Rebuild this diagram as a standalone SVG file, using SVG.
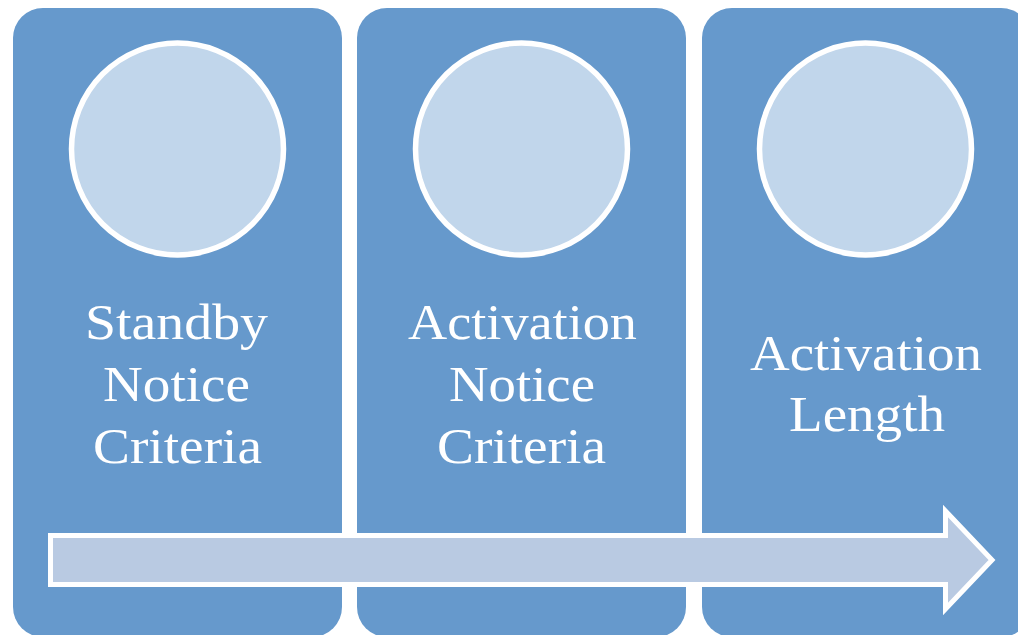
<svg xmlns="http://www.w3.org/2000/svg" width="1018" height="635" viewBox="0 0 1018 635">
  <style>
    .panel { fill: #6699CC; }
    .circle { fill: #C1D6EB; stroke: #FFFFFF; stroke-width: 5.5; }
    .label { font-family: "Liberation Serif", "Times New Roman", serif; font-size: 50px; fill: #FFFFFF; }
    .arrow { fill: #B9CAE2; stroke: #FFFFFF; stroke-width: 5; stroke-linejoin: miter; }
  </style>
  <rect x="0" y="0" width="1018" height="635" fill="#FFFFFF"/>
  <g id="panel1">
    <rect class="panel" x="13" y="8" width="329" height="629" rx="30" ry="30"/>
    <circle class="circle" cx="177.5" cy="149" r="106"/>
    <text class="label">
      <tspan x="85" y="339" textLength="183" lengthAdjust="spacingAndGlyphs">Standby</tspan>
      <tspan x="103" y="401" textLength="147" lengthAdjust="spacingAndGlyphs">Notice</tspan>
      <tspan x="93" y="463" textLength="169" lengthAdjust="spacingAndGlyphs">Criteria</tspan>
    </text>
  </g>
  <g id="panel2">
    <rect class="panel" x="357" y="8" width="329" height="629" rx="30" ry="30"/>
    <circle class="circle" cx="521.5" cy="149" r="106"/>
    <text class="label">
      <tspan x="408" y="339" textLength="229" lengthAdjust="spacingAndGlyphs">Activation</tspan>
      <tspan x="449" y="401" textLength="146" lengthAdjust="spacingAndGlyphs">Notice</tspan>
      <tspan x="437" y="463" textLength="169" lengthAdjust="spacingAndGlyphs">Criteria</tspan>
    </text>
  </g>
  <g id="panel3">
    <rect class="panel" x="702" y="8" width="329" height="629" rx="30" ry="30"/>
    <circle class="circle" cx="865.5" cy="149" r="106"/>
    <text class="label">
      <tspan x="750" y="370" textLength="232" lengthAdjust="spacingAndGlyphs">Activation</tspan>
      <tspan x="789" y="431" textLength="156" lengthAdjust="spacingAndGlyphs">Length</tspan>
    </text>
  </g>
  <g id="connectors">
    <path class="arrow" d="M50.5,535.5 L945.5,535.5 L945.5,511 L992,560 L945.5,609 L945.5,584.5 L50.5,584.5 Z"/>
  </g>
</svg>
